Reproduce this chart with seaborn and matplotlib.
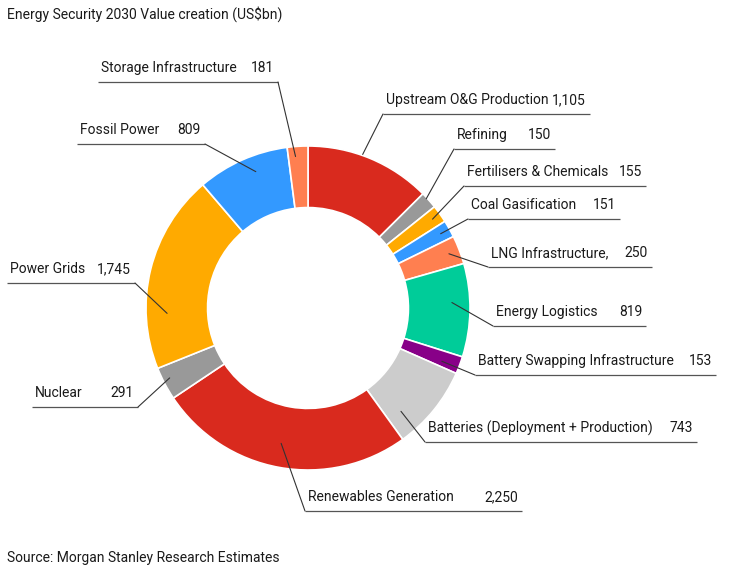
import numpy as np
import matplotlib.pyplot as plt
import seaborn as sns

sns.set_theme(style="white")
plt.rcParams['font.family'] = ['Roboto', 'DejaVu Sans']

# data, clockwise from 12 o'clock
segments = ["Upstream O&G Production", "Refining", "Fertilisers & Chemicals",
            "Coal Gasification", "LNG Infrastructure,", "Energy Logistics",
            "Battery Swapping Infrastructure", "Batteries (Deployment + Production)",
            "Renewables Generation", "Nuclear", "Power Grids", "Fossil Power",
            "Storage Infrastructure"]
values = [1105, 150, 155, 151, 250, 819, 153, 743, 2250, 291, 1745, 809, 181]
value_labels = ["1,105", "150", "155", "151", "250", "819", "153", "743",
                "2,250", "291", "1,745", "809", "181"]
colors = ["#D92A1E", "#999999", "#FFAA00", "#3399FF", "#FF7F50", "#00CC99",
          "#880088", "#CCCCCC", "#D92A1E", "#999999", "#FFAA00", "#3399FF",
          "#FF7F50"]

# label layout in pixels: (line y, line x0, line x1, leader side, tip radius, tip angle shift)
layout = [
    (114, 383, 590, "L", 163, -3),
    (149, 454, 555, "L", 161, -1),
    (186, 464, 646, "L", 153, 0),
    (219, 468, 620, "L", 152, 0),
    (267, 488, 652, "L", 151, 0),
    (326, 493, 646, "L", 144, -3),
    (375, 475, 716, "L", 144, 1),
    (442, 425, 697, "L", 139, 9),
    (511, 305, 522, "L", 138, 1),
    (407, 32, 138, "R", 155, 1),
    (283, 7, 135, "R", 141, -16),
    (144, 77, 205, "R", 146, 3),
    (82, 98, 278, "R", 152, -1),
]

W, H = 730, 575
cx, cy, R = 308, 308, 162
fs = 10

fig = plt.figure(figsize=(W / 100, H / 100), dpi=100)
ax = fig.add_axes([0, 0, 1, 1])

ax.pie(values, colors=colors, center=(cx, cy), radius=R, startangle=-90,
       counterclock=True, wedgeprops=dict(width=R * 0.38, edgecolor="white", linewidth=1.2))
ax.set_xlim(0, W)
ax.set_ylim(H, 0)
ax.set_axis_off()

txt = "#1a1a1a"
line_c = "#555555"
total = sum(values)
cum = np.cumsum([0] + values)
for i, name in enumerate(segments):
    ly, x0, x1, side, rt, shift = layout[i]
    mid = (cum[i] + cum[i + 1]) / 2 / total * 360 + shift
    th = np.radians(mid)
    tx, ty = cx + rt * np.sin(th), cy - rt * np.cos(th)
    ax.plot([x0, x1], [ly, ly], color=line_c, lw=0.9, solid_capstyle="butt")
    sx = x0 if side == "L" else x1
    ax.plot([sx, tx], [ly, ty], color="#333333", lw=0.8)
    ax.text(x0 + 3, ly - 14, name, ha="left", va="center", fontsize=fs, color=txt)
    ax.text(x1 - 4, ly - 14, value_labels[i], ha="right", va="center", fontsize=fs, color=txt)

ax.text(7, 14, "Energy Security 2030 Value creation (US\\$bn)", ha="left", va="center",
        fontsize=fs, color=txt)
ax.text(7, 558, "Source: Morgan Stanley Research Estimates", ha="left", va="center",
        fontsize=fs, color=txt)

fig.savefig("out.png", dpi=100)
